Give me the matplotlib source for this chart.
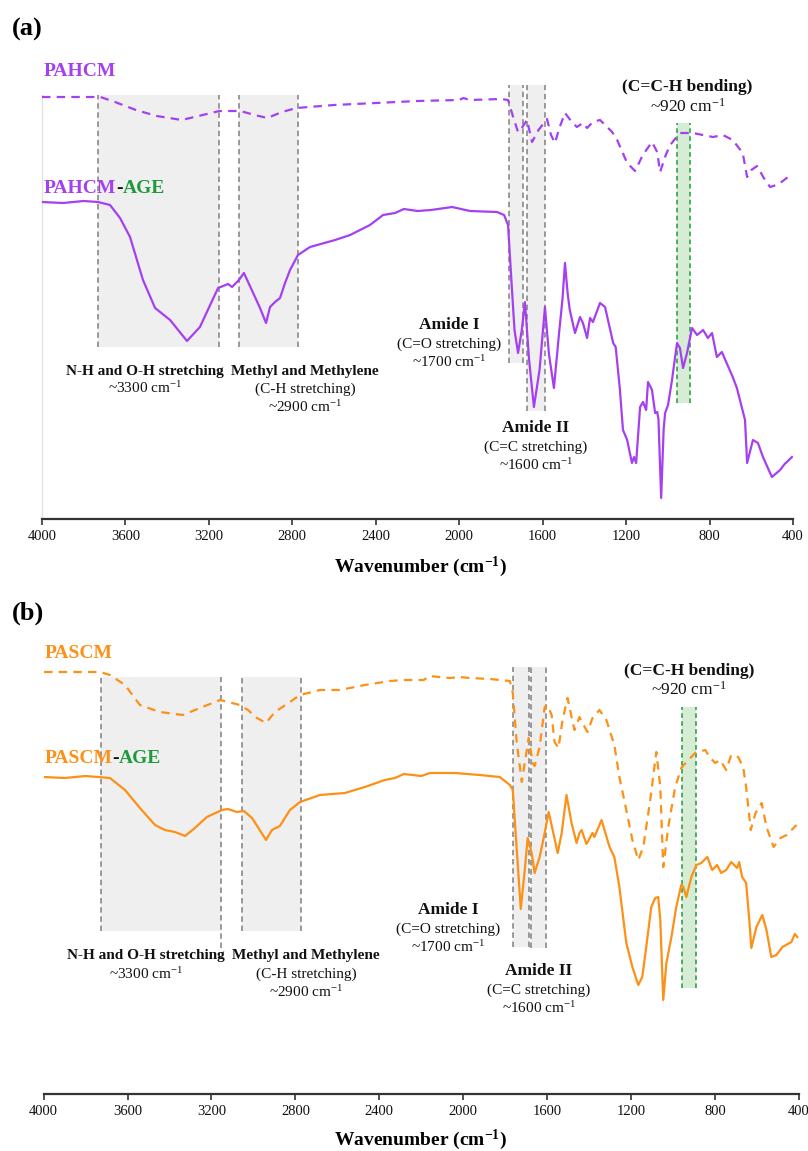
import matplotlib
matplotlib.use("Agg")
import matplotlib.pyplot as plt

plt.rcParams['font.family'] = ['Liberation Serif', 'DejaVu Serif']
plt.rcParams['mathtext.fontset'] = 'custom'
plt.rcParams['mathtext.rm'] = 'Liberation Serif'
plt.rcParams['mathtext.bf'] = 'Liberation Serif:bold'
plt.rcParams['mathtext.default'] = 'regular'

# ---------------- data (offset transmittance, arbitrary units) ----------------
ticks = [4000, 3600, 3200, 2800, 2400, 2000, 1600, 1200, 800, 400]

pahcm_w = [4000, 3720, 3650, 3550, 3450, 3330, 3250, 3150, 3050, 2980, 2920, 2850, 2780, 2600,
           2400, 2200, 2000, 1980, 1950, 1800, 1766, 1740, 1718, 1700, 1675, 1651, 1620, 1579,
           1560, 1541, 1520, 1493, 1460, 1436, 1407, 1387, 1360, 1325, 1267, 1243, 1195, 1157,
           1120, 1076, 1051, 1037, 1010, 989, 942, 880, 784, 736, 689, 641, 620, 600, 572, 540,
           510, 480, 462, 430, 405]
pahcm_t = [422, 422, 417, 409, 403, 399, 403, 408, 408, 404, 401, 407, 411, 414,
           416, 418, 419, 421, 419, 420, 419, 401, 387, 391, 399, 377, 389, 400,
           384, 376, 391, 406, 397, 392, 396, 391, 397, 399, 387, 379, 356, 348,
           364, 377, 367, 347, 364, 374, 386, 386, 382, 384, 379, 366, 342, 349, 353, 341,
           332, 334, 336, 341, 346]

pahcm_age_w = [4000, 3900, 3800, 3732, 3674, 3626, 3578, 3516, 3458, 3386, 3305, 3243, 3156,
               3108, 3089, 3056, 3032, 2979, 2955, 2926, 2907, 2883, 2859, 2835, 2811, 2773,
               2715, 2595, 2523, 2428, 2365, 2308, 2265, 2200, 2135, 2034, 1948, 1819, 1785,
               1766, 1750, 1735, 1718, 1700, 1685, 1665, 1642, 1615, 1589, 1570, 1546, 1520,
               1505, 1493, 1480, 1470, 1445, 1421, 1407, 1387, 1373, 1359, 1325, 1301, 1262,
               1250, 1230, 1215, 1195, 1172, 1162, 1152, 1133, 1119, 1104, 1095, 1076, 1061,
               1051, 1045, 1032, 1020, 1013, 999, 980, 956, 942, 927, 908, 884, 860, 831, 808,
               788, 765, 741, 689, 669, 630, 620, 592, 568, 544, 501, 462, 440, 429, 415, 405]
pahcm_age_t = [317, 316, 318, 317, 314, 301, 282, 239, 211, 199, 178, 192, 231,
               235, 232, 239, 246, 222, 211, 196, 212, 217, 221, 236, 249, 264,
               272, 279, 284, 294, 304, 306, 310, 308, 309, 312, 308, 307, 304,
               294, 239, 189, 166, 189, 217, 159, 112, 149, 212, 165, 131, 189,
               220, 256, 225, 209, 186, 202, 196, 181, 201, 197, 216, 212, 176,
               172, 130, 89, 79, 56, 62, 56, 112, 117, 109, 137, 129, 106,
               107, 100, 21, 90, 106, 114, 139, 176, 171, 151, 166, 191, 184, 189, 181,
               186, 162, 167, 142, 131, 99, 56, 79, 76, 62, 42, 49, 55, 57, 60, 62]

pascm_w = [3998, 3731, 3684, 3612, 3541, 3446, 3336, 3255, 3159, 3064, 3026, 2983, 2940, 2898,
           2826, 2778, 2683, 2588, 2469, 2350, 2283, 2188, 2164, 2064, 2016, 1969, 1873, 1826,
           1778, 1764, 1745, 1721, 1707, 1688, 1669, 1660, 1636, 1612, 1598, 1579, 1565, 1546,
           1527, 1503, 1484, 1470, 1446, 1432, 1408, 1384, 1351, 1318, 1280, 1256, 1223, 1194,
           1166, 1142, 1109, 1080, 1061, 1047, 1023, 990, 961, 937, 895, 847, 823, 799, 776,
           747, 723, 690, 666, 652, 630, 607, 578, 555, 521, 488, 459, 412]
pascm_t = [422, 422, 419, 409, 389, 382, 379, 386, 394, 389, 384, 376, 371, 382,
           392, 399, 404, 404, 409, 413, 414, 414, 418, 416, 417, 416, 415, 414,
           413, 401, 351, 312, 331, 356, 331, 328, 347, 387, 389, 379, 352, 346,
           374, 396, 377, 364, 377, 371, 362, 376, 384, 374, 349, 317, 284, 254,
           234, 247, 294, 342, 307, 227, 267, 307, 326, 332, 341, 344, 336, 331, 334,
           324, 339, 337, 327, 307, 264, 281, 291, 267, 247, 256, 259, 269]

pascm_age_w = [3998, 3900, 3800, 3741, 3684, 3612, 3541, 3469, 3422, 3374, 3326, 3279, 3222,
               3150, 3122, 3079, 3045, 3007, 2979, 2940, 2912, 2874, 2826, 2778, 2683, 2564,
               2469, 2374, 2326, 2283, 2200, 2159, 2040, 1921, 1826, 1778, 1764, 1745, 1726,
               1707, 1693, 1674, 1660, 1636, 1612, 1593, 1574, 1550, 1531, 1508, 1484, 1460,
               1446, 1436, 1413, 1384, 1375, 1341, 1303, 1280, 1256, 1223, 1194, 1166, 1147,
               1128, 1104, 1085, 1071, 1061, 1047, 1032, 1008, 985, 961, 951, 937, 913, 889,
               866, 837, 814, 790, 771, 747, 723, 695, 685, 671, 652, 637, 627, 603, 575, 555,
               532, 508, 479, 436, 420, 408]
pascm_age_t = [317, 316, 318, 317, 316, 304, 286, 269, 264, 262, 258, 266, 277,
               284, 285, 282, 283, 276, 267, 254, 264, 268, 284, 292, 299, 301,
               307, 314, 316, 320, 318, 321, 321, 319, 317, 309, 304, 244, 185,
               224, 256, 241, 221, 237, 261, 282, 264, 241, 261, 299, 271, 251,
               261, 264, 250, 261, 257, 274, 247, 237, 207, 151, 127, 109, 117,
               147, 187, 196, 197, 174, 94, 131, 157, 187, 209, 207, 197, 217, 229,
               231, 237, 224, 229, 221, 224, 232, 226, 232, 217, 211, 174, 146, 167, 179, 164,
               137, 139, 147, 152, 160, 157]

PURPLE = '#a540f2'
ORANGE = '#fd9016'
GREEN = '#1d9a3b'
GREENFILL = '#d7ecd5'
GRAYFILL = '#efefef'
GRAYLINE = '#808080'

fig = plt.figure(figsize=(8.08, 11.51), dpi=100)
W, H = 808.0, 1151.0


def make_axes(x0, x1, ytop, ybot, ymax):
    ax = fig.add_axes([x0 / W, 1 - ybot / H, (x1 - x0) / W, (ybot - ytop) / H])
    ax.set_xlim(4000, 400)
    ax.set_ylim(0, ymax)
    ax.set_xticks(ticks)
    ax.set_xticklabels([str(t) for t in ticks])
    ax.set_yticks([])
    for s in ['top', 'right']:
        ax.spines[s].set_visible(False)
    ax.spines['bottom'].set_color('#333333')
    ax.spines['bottom'].set_linewidth(1.6)
    ax.tick_params(axis='x', direction='out', length=4, width=1.2, color='#333333',
                   labelsize=10.5, pad=4, labelcolor='#111111')
    return ax


def band(ax, w1, w2, y1, y2, fill, lc, ls, ybot_right=None):
    ax.fill_between([w1, w2], [y1, y1], [y2, y2], color=fill, lw=0, zorder=0)
    ax.vlines([w1], y1, y2, colors=lc, linestyles=ls, lw=1.1, zorder=1)
    ax.vlines([w2], y1 if ybot_right is None else ybot_right, y2, colors=lc,
              linestyles=ls, lw=1.1, zorder=1)


def label(ax, x, y, parts, size=14):
    t = ax.text(x, y, parts[0][0], color=parts[0][1], fontsize=size, fontweight='bold',
                ha='left', va='baseline')
    for s, c in parts[1:]:
        t = ax.annotate(s, xy=(1, 0), xycoords=t, va='bottom', ha='left', color=c,
                        fontsize=size, fontweight='bold')


def annot(ax, x, lines, size_r=11):
    for (txt, y, bold, big) in lines:
        ax.text(x, y, txt, ha='center', va='center', color='#111111',
                fontsize=(12.5 if big else size_r), fontweight=('bold' if bold else 'normal'))


gls = (0, (3.6, 2.4))
grls = (0, (3.0, 2.2))

# ---------------- panel (a) ----------------
axa = make_axes(42, 793, 40, 519, 479)
axa.spines['left'].set_color('#e2e2e2')
axa.spines['left'].set_linewidth(1.0)
axa.spines['left'].set_bounds(0, 424)
band(axa, 3730, 3150, 172, 424, GRAYFILL, GRAYLINE, gls)
band(axa, 3055, 2775, 172, 424, GRAYFILL, GRAYLINE, gls)
band(axa, 1761, 1692, 156, 434, GRAYFILL, GRAYLINE, gls)
band(axa, 1676, 1589, 108, 434, GRAYFILL, GRAYLINE, gls)
band(axa, 955, 895, 116, 396, GREENFILL, GREEN, grls)
axa.plot(pahcm_w, pahcm_t, color=PURPLE, lw=1.6, ls=(0, (3.8, 2.8)), zorder=3)
axa.plot(pahcm_age_w, pahcm_age_t, color=PURPLE, lw=1.6, zorder=3)
label(axa, 3990, 443, [('PAHCM', PURPLE)])
label(axa, 3990, 326, [('PAHCM', PURPLE), ('-', '#111111'), ('AGE', GREEN)])
annot(axa, 3506, [('N-H and O-H stretching', 148, True, False),
                  ('~3300 cm$^{-1}$', 131, False, False)])
annot(axa, 2740, [('Methyl and Methylene', 148, True, False),
                  ('(C-H stretching)', 130, False, False),
                  ('~2900 cm$^{-1}$', 112, False, False)])
annot(axa, 2049, [('Amide I', 194, True, True),
                  ('(C=O stretching)', 175, False, False),
                  ('~1700 cm$^{-1}$', 157, False, False)])
annot(axa, 1633, [('Amide II', 91, True, True),
                  ('(C=C stretching)', 72, False, False),
                  ('~1600 cm$^{-1}$', 54, False, False)])
axa.text(906, 432, '(C=C-H bending)', ha='center', va='center', fontsize=12.5,
         fontweight='bold', color='#111111')
axa.text(906, 412, '~920 cm$^{-1}$', ha='center', va='center', fontsize=12.5, color='#111111')

# ---------------- panel (b) ----------------
axb = make_axes(43.6, 799, 600, 1094, 494)
axb.spines['left'].set_visible(False)
band(axb, 3728, 3155, 163, 417, GRAYFILL, GRAYLINE, gls, ybot_right=146)
band(axb, 3053, 2772, 163, 417, GRAYFILL, GRAYLINE, gls)
band(axb, 1765, 1689, 147, 427, GRAYFILL, GRAYLINE, gls)
band(axb, 1678, 1608, 146, 427, GRAYFILL, GRAYLINE, gls)
band(axb, 957, 893, 106, 387, GREENFILL, GREEN, grls)
axb.plot(pascm_w, pascm_t, color=ORANGE, lw=1.6, ls=(0, (3.8, 2.8)), zorder=3)
axb.plot(pascm_age_w, pascm_age_t, color=ORANGE, lw=1.6, zorder=3)
label(axb, 3996, 436, [('PASCM', ORANGE)])
label(axb, 3996, 331, [('PASCM', ORANGE), ('-', '#111111'), ('AGE', GREEN)])
annot(axb, 3512, [('N-H and O-H stretching', 138, True, False),
                  ('~3300 cm$^{-1}$', 120, False, False)])
annot(axb, 2749, [('Methyl and Methylene', 138, True, False),
                  ('(C-H stretching)', 120, False, False),
                  ('~2900 cm$^{-1}$', 102, False, False)])
annot(axb, 2073, [('Amide I', 184, True, True),
                  ('(C=O stretching)', 165, False, False),
                  ('~1700 cm$^{-1}$', 147, False, False)])
annot(axb, 1641, [('Amide II', 123, True, True),
                  ('(C=C stretching)', 104, False, False),
                  ('~1600 cm$^{-1}$', 86, False, False)])
axb.text(925, 423, '(C=C-H bending)', ha='center', va='center', fontsize=12.5,
         fontweight='bold', color='#111111')
axb.text(925, 404, '~920 cm$^{-1}$', ha='center', va='center', fontsize=12.5, color='#111111')

# ---------------- figure texts ----------------
fig.text(12 / W, 1 - 36 / H, '(a)', fontsize=19, fontweight='bold', va='baseline', ha='left')
fig.text(12 / W, 1 - 620 / H, '(b)', fontsize=19, fontweight='bold', va='baseline', ha='left')
fig.text(420 / W, 1 - 567 / H, 'Wavenumber (cm$^{-1}$)', fontsize=14, fontweight='bold',
         ha='center', va='center')
fig.text(420 / W, 1 - 1140 / H, 'Wavenumber (cm$^{-1}$)', fontsize=14, fontweight='bold',
         ha='center', va='center')

fig.savefig('out.png', dpi=100)
